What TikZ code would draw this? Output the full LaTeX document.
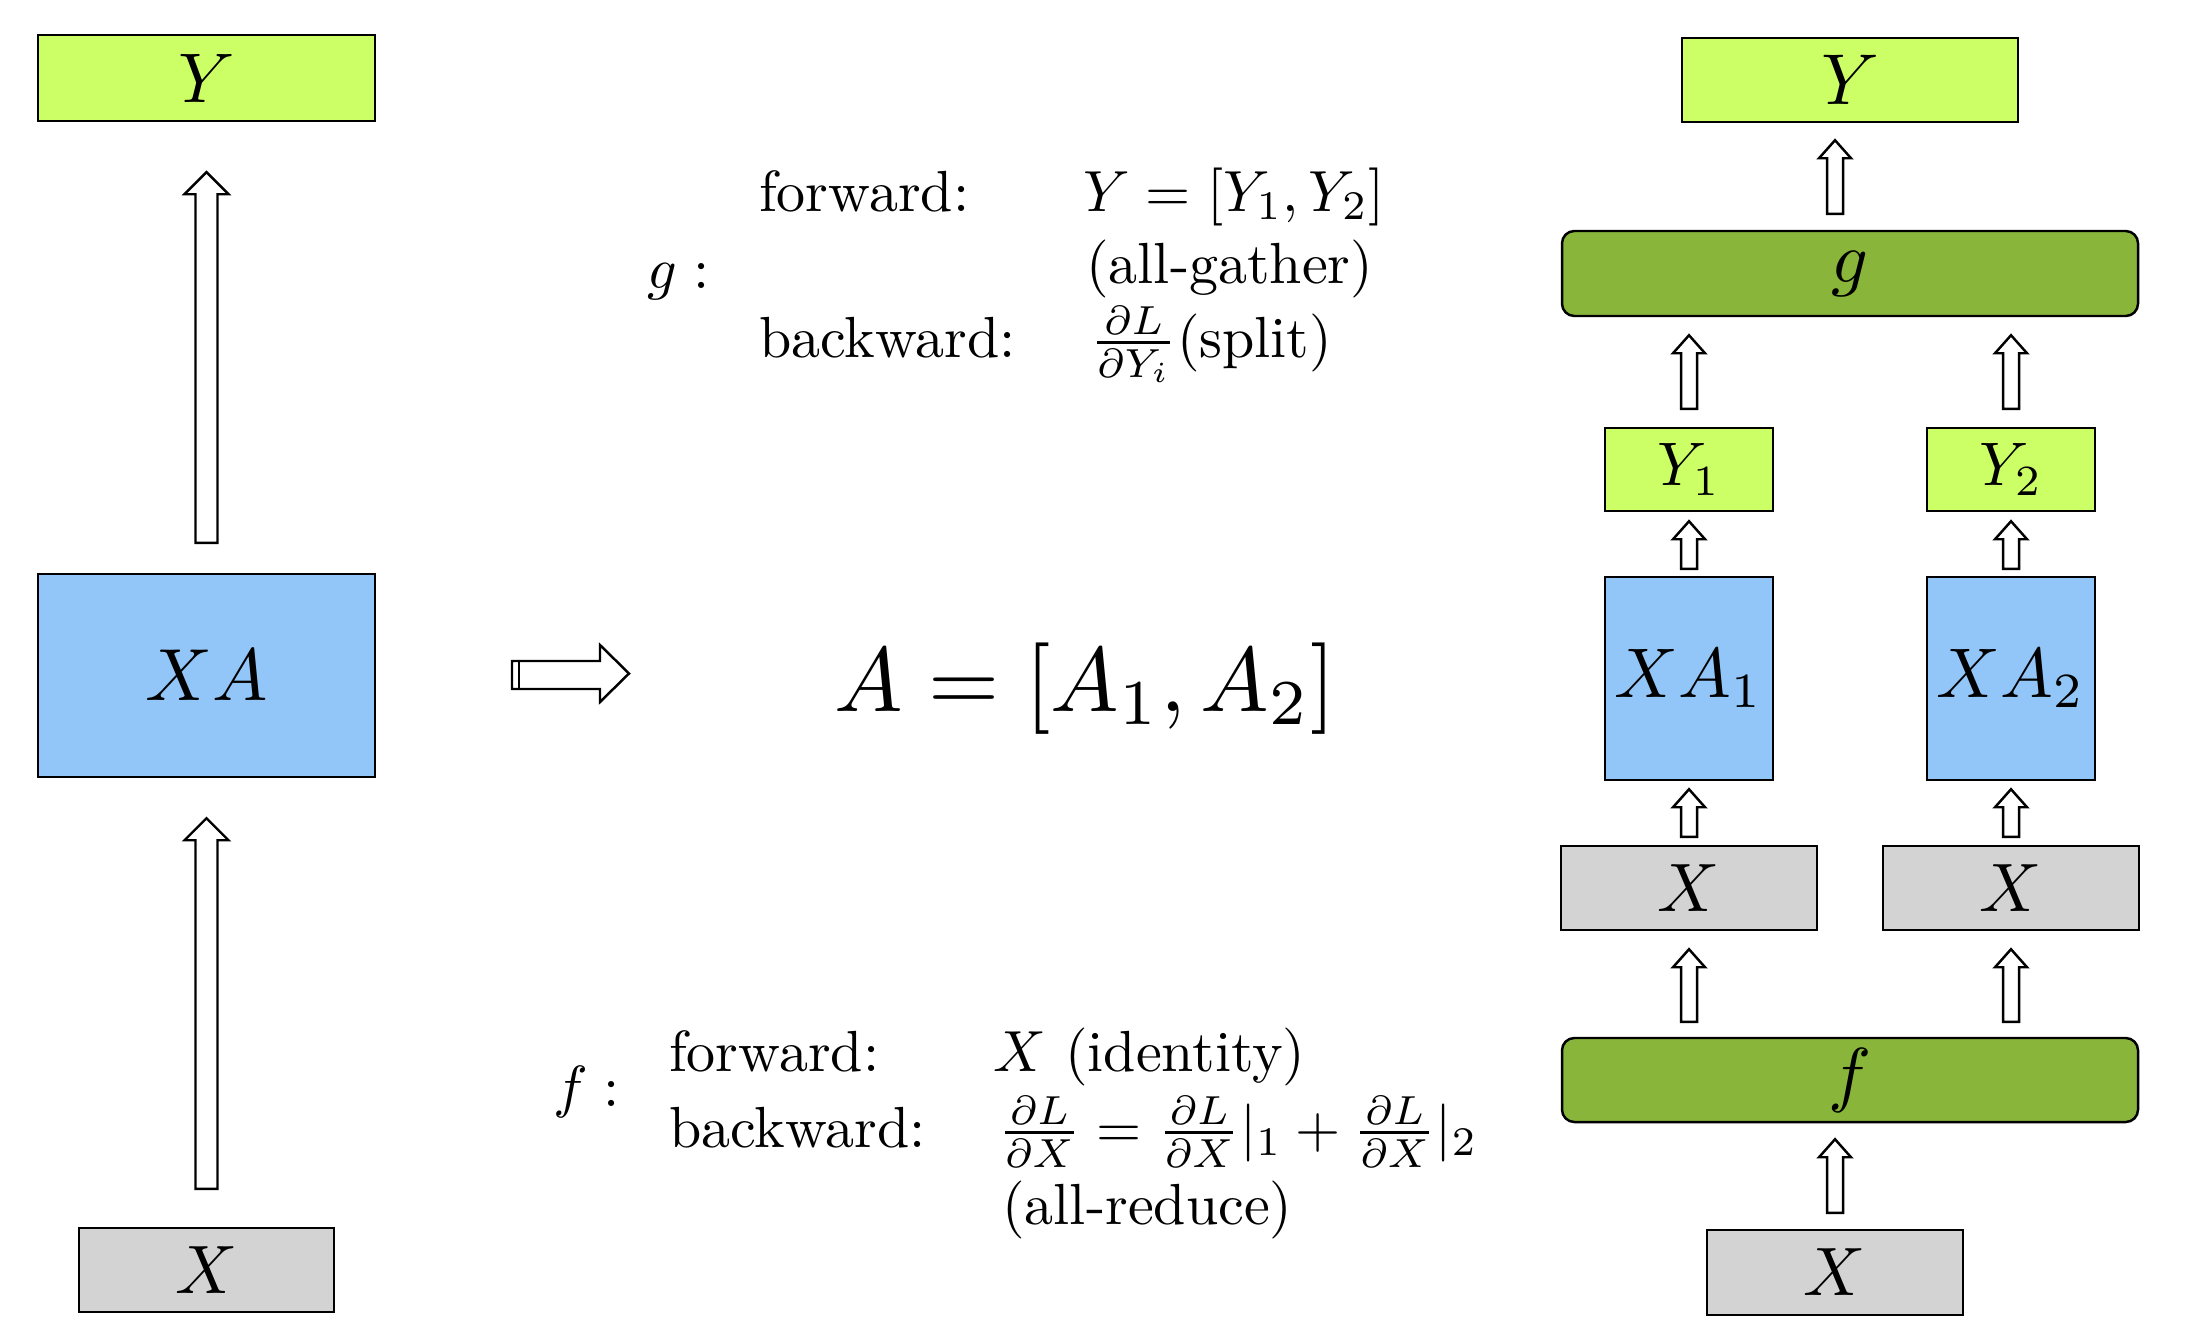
\RequirePackage{fix-cm}
\documentclass[tikz,border=0pt]{standalone}
\usepackage{graphicx}
\usetikzlibrary{calc}
\newdimen\pxu \pxu=0.01cm
\definecolor{lgreen}{HTML}{CCFF66}
\definecolor{dgreen}{HTML}{88B53A}
\definecolor{lblue}{HTML}{93C6F8}
\definecolor{lgray}{HTML}{D3D3D3}
\newcommand\lab[2]{\scalebox{#1}{$#2$}}
\tikzset{
  box/.style={draw=black, line width=0.7pt, inner sep=0pt, anchor=center, font=\fontsize{10}{12}\selectfont},
  bw/.style={minimum width=#1\pxu},
  bh/.style={minimum height=#1\pxu},
  txt/.style={anchor=base west, inner sep=0pt, font=\fontsize{10}{12}\selectfont, scale=1.65},
  blk/.style={draw=black, fill=white, line width=0.7pt, line join=miter}
}
% block arrow from (#1.north) up to (#2.south) at x=#3 px
% #4 gap bottom, #5 gap top, #6 shaft half width, #7 head half width, #8 head length
\newcommand\blkarrow[8]{%
  \path[blk] let \p1=(#1.north), \p2=(#2.south) in
    ({(#3-#6)*\pxu},{\y1+#4*\pxu}) -- ({(#3-#6)*\pxu},{\y2-(#5+#8)*\pxu})
    -- ({(#3-#7)*\pxu},{\y2-(#5+#8)*\pxu}) -- ({#3*\pxu},{\y2-#5*\pxu})
    -- ({(#3+#7)*\pxu},{\y2-(#5+#8)*\pxu}) -- ({(#3+#6)*\pxu},{\y2-(#5+#8)*\pxu})
    -- ({(#3+#6)*\pxu},{\y1+#4*\pxu}) -- cycle;}
\begin{document}
\begin{tikzpicture}[x=0.01cm, y=-0.01cm]
\useasboundingbox[fill=white] (0,0) rectangle (2200,1336);

% ---------- left column ----------
\node[box, fill=lgreen, bw=337, bh=86] (LY) at (206.5,78) {\lab{2}{Y}};
\node[box, fill=lblue, bw=337, bh=203] (LXA) at (206.5,675.5) {\lab{2.1}{XA}};
\node[box, fill=lgray, bw=255, bh=84] (LX) at (206.5,1270) {\lab{1.95}{X}};
\blkarrow{LXA}{LY}{206.5}{30}{50}{11}{22}{22}
\blkarrow{LX}{LXA}{206.5}{38}{40}{11}{22}{22}

% ---------- middle ----------
\path[blk] (512,661) -- (600,661) -- (600,645) -- (629,673.5) -- (600,702) -- (600,689) -- (512,689) -- cycle;
\draw[line width=0.7pt] (519,661) -- (519,689);
\node[anchor=base west, inner sep=0pt, font=\fontsize{10}{12}\selectfont, scale=2.6] (Aeq) at (833,711) {$A=[A_1,A_2]$};

\node[txt] (glab) at (646,288) {$g:$};
\node[txt] (gfwd) at (758,211) {forward:};
\node[txt] (gfwdeq) at (1082,211) {$Y=[Y_1,Y_2]$};
\node[txt] (gall) at (1085,283) {(all-gather)};
\node[txt] (gbwd) at (758,357) {backward:};
\node[txt] (gbwdeq) at (1089,357) {$\frac{\partial L}{\partial Y_i}$(split)};

\node[txt] (flab) at (552,1106) {$f:$};
\node[txt] (ffwd) at (668,1071) {forward:};
\node[txt] (ffwdeq) at (992,1071) {$X$ (identity)};
\node[txt] (fbwd) at (668,1147) {backward:};
\node[txt] (fbwdeq) at (997,1147) {$\frac{\partial L}{\partial X}=\frac{\partial L}{\partial X}|_1+\frac{\partial L}{\partial X}|_2$};
\node[txt] (fall) at (1001,1224) {(all-reduce)};

% ---------- right column ----------
\node[box, fill=lgreen, bw=336, bh=84] (RY) at (1850,80) {\lab{2.05}{Y}};
\node[box, fill=dgreen, bw=576, bh=85, rounded corners=3.5pt] (Rg) at (1850,273.5) {\lab{2.05}{g}};
\node[box, fill=lgreen, bw=168, bh=83] (RY1) at (1689,469.5) {\lab{1.75}{Y_1}};
\node[box, fill=lgreen, bw=168, bh=83] (RY2) at (2011,469.5) {\lab{1.75}{Y_2}};
\node[box, fill=lblue, bw=168, bh=203] (RXA1) at (1689,678.5) {\lab{2}{XA_1}};
\node[box, fill=lblue, bw=168, bh=203] (RXA2) at (2011,678.5) {\lab{2}{XA_2}};
\node[box, fill=lgray, bw=256, bh=84] (RX1) at (1689,888) {\lab{1.95}{X}};
\node[box, fill=lgray, bw=256, bh=84] (RX2) at (2011,888) {\lab{1.95}{X}};
\node[box, fill=dgreen, bw=576, bh=84, rounded corners=3.5pt] (Rf) at (1850,1080) {\lab{2.05}{f}};
\node[box, fill=lgray, bw=256, bh=85] (RX) at (1835,1272.5) {\lab{1.95}{X}};

\blkarrow{Rg}{RY}{1835}{16}{17}{8}{16}{18}
\blkarrow{RY1}{Rg}{1689}{18}{18}{8}{16}{18}
\blkarrow{RY2}{Rg}{2011}{18}{18}{8}{16}{18}
\blkarrow{RXA1}{RY1}{1689}{7}{9}{8}{16}{18}
\blkarrow{RXA2}{RY2}{2011}{7}{9}{8}{16}{18}
\blkarrow{RX1}{RXA1}{1689}{8}{8}{8}{16}{18}
\blkarrow{RX2}{RXA2}{2011}{8}{8}{8}{16}{18}
\blkarrow{Rf}{RX1}{1689}{15}{18}{8}{16}{18}
\blkarrow{Rf}{RX2}{2011}{15}{18}{8}{16}{18}
\blkarrow{RX}{Rf}{1835}{16}{16}{8}{16}{18}
\end{tikzpicture}
\end{document}
